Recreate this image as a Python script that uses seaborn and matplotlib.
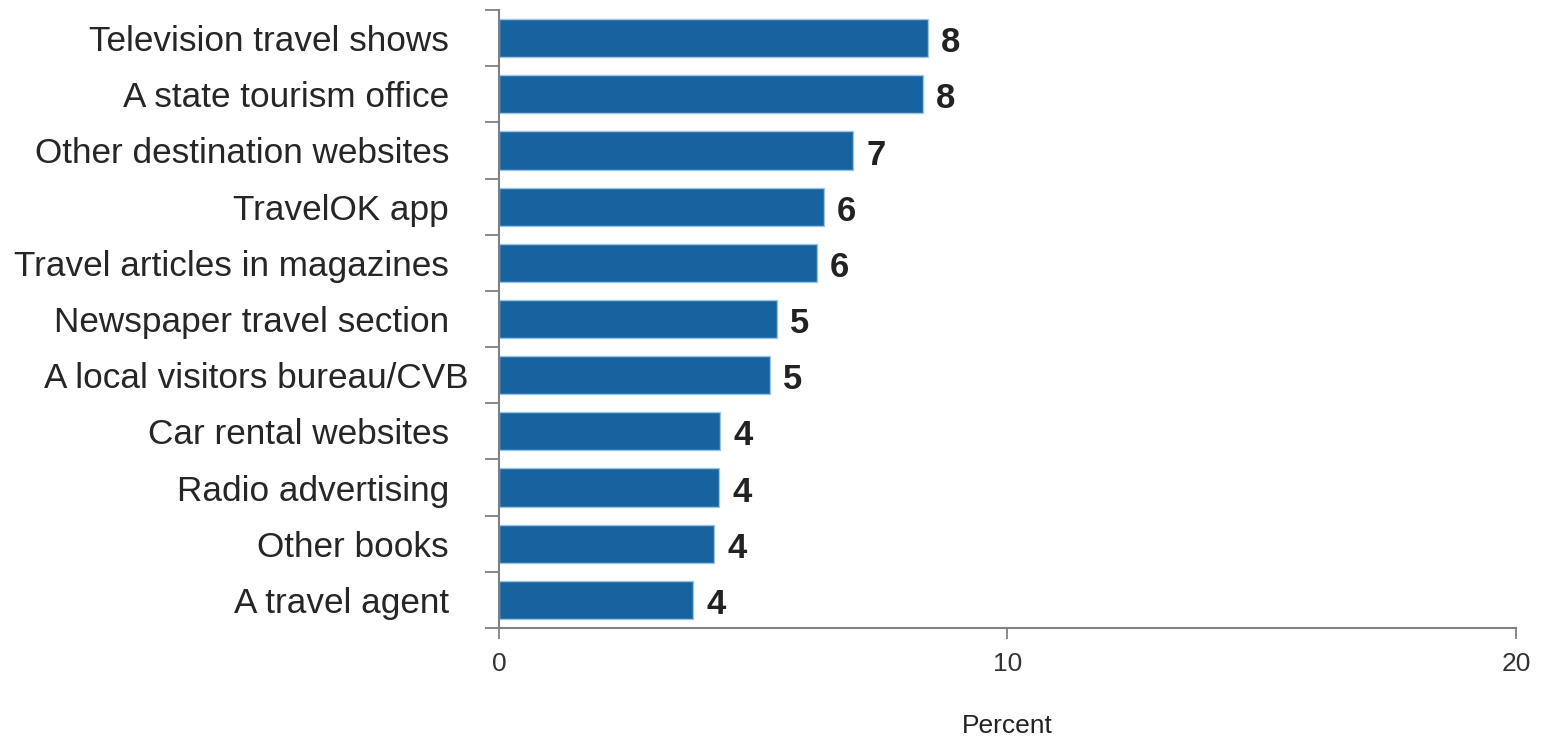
import matplotlib
matplotlib.use("Agg")
import matplotlib.pyplot as plt
import seaborn as sns
import pandas as pd
import numpy as np

categories = [
    "Television travel shows",
    "A state tourism office",
    "Other destination websites",
    "TravelOK app",
    "Travel articles in magazines",
    "Newspaper travel section",
    "A local visitors bureau/CVB",
    "Car rental websites",
    "Radio advertising",
    "Other books",
    "A travel agent",
]
percent = [8.44, 8.34, 6.96, 6.39, 6.25, 5.47, 5.33, 4.35, 4.33, 4.23, 3.82]
# Most source labels carry trailing padding; the CVB label does not
label_suffix = ["  "] * 6 + [""] + ["  "] * 4
x_ticks = [0, 10, 20]

sns.set_theme(style="white")
plt.rcParams["font.family"] = ["Liberation Sans", "DejaVu Sans"]

df = pd.DataFrame({"category": categories, "percent": percent})

fig = plt.figure(figsize=(15.42, 7.37), dpi=100)
ax = fig.add_axes([0.3236, 0.1479, 0.6595, 0.8385])

sns.barplot(data=df, x="percent", y="category", orient="h", color="#17639f",
            saturation=1, width=0.68, edgecolor="#9fc4e4", linewidth=1.0, ax=ax)

for i, v in enumerate(percent):
    ax.text(v + 0.26, i + 0.25, f"{v:.0f}", va="baseline", ha="left",
            fontsize=25, fontweight="bold", color="#222222")

ax.set_xlim(0, 20)
ax.set_ylim(len(categories) - 0.5, -0.5)
ax.set_xticks(x_ticks)
ax.set_xticklabels([str(t) for t in x_ticks], fontsize=19, color="#333333")
ax.set_yticks(range(len(categories)))
ax.set_yticklabels([c + s for c, s in zip(categories, label_suffix)],
                   fontsize=25.3, color="#262626")
ax.set_yticks(np.arange(-0.5, len(categories)), minor=True)

ax.tick_params(axis="y", which="major", length=0, pad=22)
ax.tick_params(axis="y", which="minor", length=10, width=1.3, color="#808080", left=True)
ax.tick_params(axis="x", which="major", length=8, width=1.3, color="#808080",
               bottom=True, pad=9)

for side in ["top", "right"]:
    ax.spines[side].set_visible(False)
for side in ["left", "bottom"]:
    ax.spines[side].set_color("#808080")
    ax.spines[side].set_linewidth(1.5)

ax.set_ylabel("")
ax.set_xlabel("Percent", fontsize=19, color="#222222", labelpad=27.5)

fig.savefig("out.png", dpi=100, facecolor="white")
